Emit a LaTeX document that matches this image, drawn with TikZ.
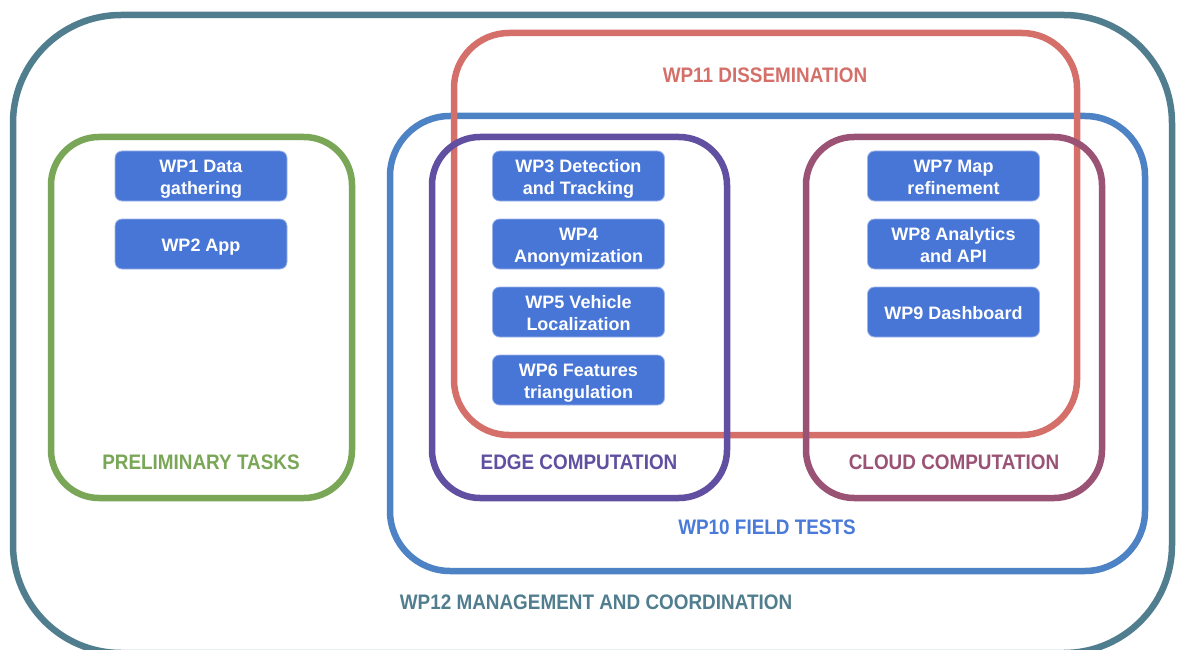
\documentclass[tikz,border=0pt]{standalone}
\usepackage{fontspec}
\setmainfont{Liberation Sans}
\newfontfamily\labfont[FakeStretch=0.9]{Liberation Sans}
\definecolor{cteal}{HTML}{517E8E}
\definecolor{cgreen}{HTML}{7AA757}
\definecolor{cblue}{HTML}{4D83C5}
\definecolor{cred}{HTML}{D56F69}
\definecolor{cpurple}{HTML}{614FA1}
\definecolor{cmag}{HTML}{9A5275}
\definecolor{cbox}{HTML}{4876D6}
\definecolor{cboxedge}{HTML}{9DB3EA}
\definecolor{clabblue}{HTML}{4A7BD9}
\newcommand\wptext[1]{\raisebox{-3pt}[\height][\depth]{\begin{tabular}{@{}c@{}}#1\end{tabular}}}
\tikzset{
  group/.style={draw=#1, line width=6.5pt, fill=none, inner sep=0pt, outer sep=0pt},
  wpbox/.style={fill=cbox, draw=cboxedge, line width=0.8pt, rounded corners=7pt,
    minimum width=172pt, minimum height=50pt, inner sep=0pt, text=white,
    font=\fontsize{18}{22}\selectfont\bfseries},
  grouplabel/.style={text=#1, inner sep=0pt, font=\labfont\fontsize{21}{24}\selectfont\bfseries}
}
\begin{document}
\begin{tikzpicture}[x=1pt,y=-1pt]
\useasboundingbox (0,0) rectangle (1184,650);
\fill[white] (0,0) rectangle (1184,650);
\begin{scope}
\clip (0,0) rectangle (1184,650);
\node[group=cteal, rounded corners=108pt, minimum width=1159pt, minimum height=638pt] (wp12) at (592.5,334) {};
\end{scope}
\node[group=cgreen, rounded corners=48pt, minimum width=301pt, minimum height=361pt] (prelim) at (201.5,317.5) {};
\node[group=cblue, rounded corners=60pt, minimum width=755pt, minimum height=455pt] (wp10) at (767.5,343.5) {};
\node[group=cred, rounded corners=55pt, minimum width=623pt, minimum height=402pt] (wp11) at (765.5,234) {};
\node[group=cpurple, rounded corners=48pt, minimum width=295pt, minimum height=361pt] (edge) at (579.5,317.5) {};
\node[group=cmag, rounded corners=48pt, minimum width=296pt, minimum height=361pt] (cloud) at (954,317.5) {};

\node[wpbox] (wp1) at (201,176) {\wptext{WP1 Data\\gathering}};
\node[wpbox] (wp2) at (201,244) {\wptext{WP2 App}};
\node[wpbox] (wp3) at (578.5,176) {\wptext{WP3 Detection\\and Tracking}};
\node[wpbox] (wp4) at (578.5,244) {\wptext{WP4\\Anonymization}};
\node[wpbox] (wp5) at (578.5,312) {\wptext{WP5 Vehicle\\Localization}};
\node[wpbox] (wp6) at (578.5,380) {\wptext{WP6 Features\\triangulation}};
\node[wpbox] (wp7) at (953.5,176) {\wptext{WP7 Map\\refinement}};
\node[wpbox] (wp8) at (953.5,244) {\wptext{WP8 Analytics\\and API}};
\node[wpbox] (wp9) at (953.5,312) {\wptext{WP9 Dashboard}};

\node[grouplabel=cred] (l11) at (765,75) {WP11 DISSEMINATION};
\node[grouplabel=cgreen] (lpre) at (201,462) {PRELIMINARY TASKS};
\node[grouplabel=cpurple] (ledge) at (579,462) {EDGE COMPUTATION};
\node[grouplabel=cmag] (lcloud) at (954,462) {CLOUD COMPUTATION};
\node[grouplabel=clabblue] (l10) at (767,527) {WP10 FIELD TESTS};
\node[grouplabel=cteal] (l12) at (596,602) {WP12 MANAGEMENT AND COORDINATION};
\end{tikzpicture}
\end{document}
